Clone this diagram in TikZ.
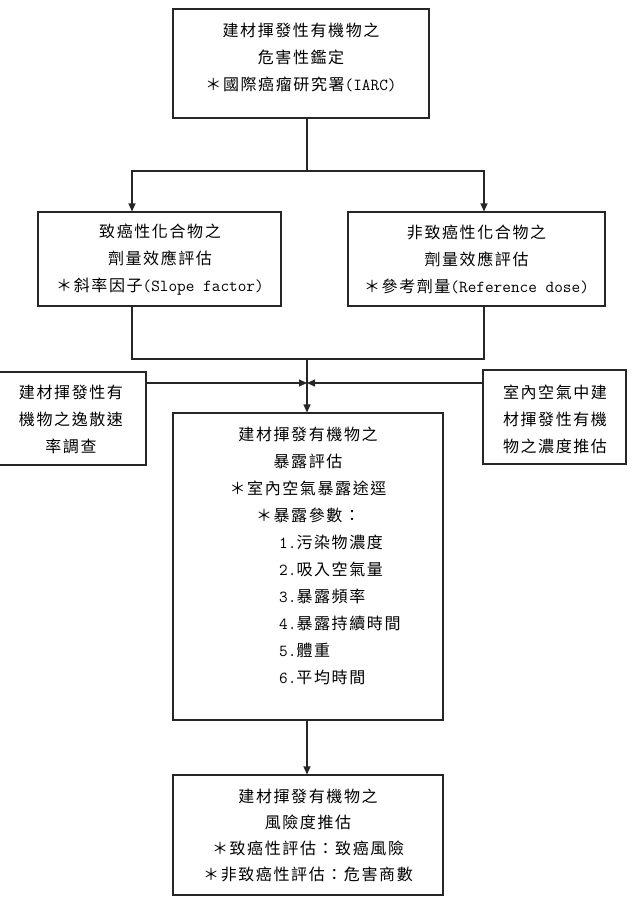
\documentclass[tikz,border=0pt]{standalone}
\usepackage{fontspec}
\setmainfont{Noto Sans CJK TC}[LetterSpace=10]
\newcommand{\latx}[1]{{\ttfamily\fontsize{16.8}{27}\selectfont #1}}
\usetikzlibrary{arrows.meta}
\tikzset{
  box/.style={draw=black!85, line width=1.1pt, inner sep=0pt},
  txt/.style={inner sep=0pt, align=center, font=\fontsize{16}{27}\selectfont},
  txtl/.style={inner sep=0pt, align=left, font=\fontsize{16}{27}\selectfont, anchor=west},
  txtb/.style={inner sep=0pt, align=center, font=\fontsize{16}{26}\selectfont},
  conn/.style={draw=black!85, line width=1.1pt},
  arr/.style={conn, -{Triangle[length=8pt,width=7pt]}}
}
\begin{document}
\begin{tikzpicture}[x=1pt,y=-1pt]
\useasboundingbox (0,0) rectangle (632,906);
% boxes
\node[box, minimum width=256pt, minimum height=109pt] (top) at (301,63.5) {};
\node[box, minimum width=243pt, minimum height=94pt] (c1) at (159.5,259) {};
\node[box, minimum width=257pt, minimum height=94pt] (c2) at (476.5,259) {};
\node[box, minimum width=149pt, minimum height=93pt] (s1) at (71.5,418.5) {};
\node[box, minimum width=143pt, minimum height=94pt] (s2) at (554.5,417) {};
\node[box, minimum width=270pt, minimum height=307pt] (mid) at (308,566.5) {};
\node[box, minimum width=270pt, minimum height=120pt] (bot) at (308,835) {};
% texts
\node[txt] (ttop) at (301,57) {建材揮發性有機物之\\危害性鑑定\\＊國際癌瘤研究署\latx{(IARC)}};
\node[txt] (tc1) at (160,259.5) {致癌性化合物之\\劑量效應評估\\＊斜率因子\latx{(Slope factor)}};
\node[txt] (tc2) at (476.5,259.5) {非致癌性化合物之\\劑量效應評估\\＊參考劑量\latx{(Reference dose)}};
\node[txt] (ts1) at (71,419.5) {建材揮發性有\\機物之逸散速\\率調查};
\node[txt] (ts2) at (555,419.5) {室內空氣中建\\材揮發性有機\\物之濃度推估};
\node[txt] (tmid) at (308,474.5) {建材揮發有機物之\\暴露評估\\＊室內空氣暴露途逕\\＊暴露參數：};
\node[txtl] (tlist) at (279,610) {\latx{1.}污染物濃度\\\latx{2.}吸入空氣量\\\latx{3.}暴露頻率\\\latx{4.}暴露持續時間\\\latx{5.}體重\\\latx{6.}平均時間};
\node[txtb] (tbot) at (308,835.5) {建材揮發有機物之\\風險度推估\\＊致癌性評估：致癌風險\\＊非致癌性評估：危害商數};
% connector points
\coordinate (sp) at (307,171);
\coordinate (la) at (132,171);
\coordinate (ra) at (484,171);
\coordinate (jn) at (307,359);
\coordinate (ym) at (307,383);
% connectors
\draw[conn] (top.south -| sp) -- (sp);
\draw[arr] (sp) -| (la |- c1.north);
\draw[arr] (sp) -| (ra |- c2.north);
\draw[conn] (la |- c1.south) |- (jn);
\draw[conn] (ra |- c2.south) |- (jn);
\draw[arr] (jn) -- (jn |- mid.north);
\draw[arr] (s1.east |- ym) -- (ym);
\draw[arr] (s2.west |- ym) -- (ym);
\draw[arr] (mid.south -| sp) -- (bot.north -| sp);
\end{tikzpicture}
\end{document}
